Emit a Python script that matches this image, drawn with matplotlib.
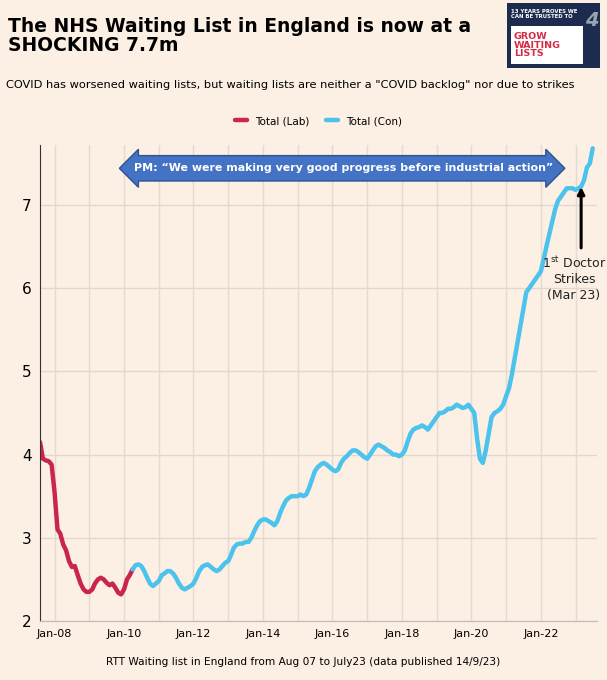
import matplotlib
matplotlib.use("Agg")
import matplotlib.pyplot as plt
import matplotlib.dates as mdates
import pandas as pd
import numpy as np

# waiting list (millions), monthly
lab_values = [4.15, 3.95, 3.93, 3.92, 3.88,
              3.55, 3.1, 3.05, 2.92, 2.85, 2.72, 2.65, 2.66, 2.55, 2.45, 2.38, 2.35,
              2.35, 2.38, 2.45, 2.5, 2.52, 2.5, 2.46, 2.43, 2.45, 2.4, 2.34, 2.32,
              2.38, 2.5, 2.55, 2.62]
con_values = [2.62, 2.67, 2.68, 2.66, 2.6, 2.52, 2.45, 2.42, 2.45,
              2.48, 2.55, 2.57, 2.6, 2.6, 2.57, 2.52, 2.45, 2.4, 2.38, 2.4, 2.42,
              2.45, 2.52, 2.6, 2.65, 2.67, 2.68, 2.65, 2.62, 2.6, 2.62, 2.66, 2.7,
              2.72, 2.8, 2.88, 2.92, 2.93, 2.93, 2.95, 2.95, 3.0, 3.08, 3.15, 3.2,
              3.22, 3.22, 3.2, 3.18, 3.15, 3.2, 3.3, 3.38, 3.45, 3.48, 3.5, 3.5,
              3.5, 3.52, 3.5, 3.52, 3.6, 3.7, 3.8, 3.85, 3.88, 3.9, 3.88, 3.85,
              3.82, 3.8, 3.82, 3.9, 3.95, 3.98, 4.02, 4.05, 4.05, 4.03, 4.0, 3.97,
              3.95, 4.0, 4.05, 4.1, 4.12, 4.1, 4.08, 4.05, 4.03, 4.0, 4.0, 3.98,
              4.0, 4.05, 4.15, 4.25, 4.3, 4.32, 4.33, 4.35, 4.33, 4.3, 4.35, 4.4,
              4.45, 4.5, 4.5, 4.52, 4.55, 4.55, 4.57, 4.6, 4.58, 4.56, 4.57, 4.6,
              4.55, 4.5, 4.2, 3.95, 3.9, 4.05, 4.25, 4.45, 4.5, 4.52, 4.55, 4.6,
              4.7, 4.8, 4.95, 5.15, 5.35, 5.55, 5.75, 5.95, 6.0, 6.05, 6.1, 6.15,
              6.2, 6.35, 6.5, 6.65, 6.8, 6.95, 7.05, 7.1, 7.15, 7.2, 7.2, 7.2,
              7.18, 7.2, 7.22, 7.3, 7.45, 7.5, 7.68]
lab_dates = pd.date_range("2007-08-01", periods=len(lab_values), freq="MS")
con_dates = pd.date_range("2010-04-01", periods=len(con_values), freq="MS")
tick_years = [2008, 2010, 2012, 2014, 2016, 2018, 2020, 2022]

bg = "#fcefe4"
red = "#c8264b"
blue = "#4cc3ec"

fig = plt.figure(figsize=(6.07, 6.8), dpi=100, facecolor=bg)
ax = fig.add_axes([40/607, 1-621/680, 557/607, 476/680], facecolor=bg)

ax.plot(lab_dates, lab_values, color=red, lw=3.2, label="Total (Lab)", solid_capstyle="round")
ax.plot(con_dates, con_values, color=blue, lw=3.2, label="Total (Con)", solid_capstyle="round")

ax.set_xlim(pd.Timestamp("2007-08-01"), pd.Timestamp("2023-08-15"))
ax.set_ylim(2, 7.72)
ax.set_yticks([2, 3, 4, 5, 6, 7])
ax.set_xticks([pd.Timestamp(f"{y}-01-01") for y in tick_years])
ax.xaxis.set_major_formatter(mdates.DateFormatter("Jan-%y"))
ax.set_xticks([pd.Timestamp(f"{y}-01-01") for y in range(2008, 2024)], minor=True)
ax.grid(True, which="both", axis="x", color="#e6dad0", lw=1)
ax.grid(True, axis="y", color="#e3d6cc", lw=1)
ax.set_axisbelow(True)
ax.tick_params(axis="y", labelsize=11, length=0, pad=6)
ax.tick_params(axis="x", labelsize=8, length=0, pad=6)
ax.tick_params(which="minor", length=0)
for s in ["top", "right"]:
    ax.spines[s].set_visible(False)
ax.spines["left"].set_color("#333333")
ax.spines["bottom"].set_color("#bbbbbb")

ax.legend(loc="lower center", bbox_to_anchor=(0.5, 1.02), ncol=2, frameon=False,
          fontsize=7.5, handlelength=1.2, columnspacing=1.5)

# PM quote arrow
ax.text(pd.Timestamp("2016-05-01"), 7.44,
        "PM: \u201cWe were making very good progress before industrial action\u201d",
        ha="center", va="center", color="white", fontsize=7.9, fontweight="bold",
        bbox=dict(boxstyle="darrow,pad=0.7", fc="#4472c4", ec="#2f528f", lw=1))

# strikes annotation
ax.annotate("", xy=(pd.Timestamp("2023-03-01"), 7.25), xytext=(pd.Timestamp("2023-03-01"), 6.45),
            arrowprops=dict(arrowstyle="-|>", color="black", lw=2.2, mutation_scale=10))
ax.text(pd.Timestamp("2022-12-15"), 6.4, "1$^{\\mathrm{st}}$ Doctor\nStrikes\n(Mar 23)",
        ha="center", va="top", fontsize=9, color="#222222", linespacing=1.3)

fig.text(8/607, 1-36/680, "The NHS Waiting List in England is now at a\nSHOCKING 7.7m",
         fontsize=13.5, fontweight="bold", va="center", ha="left", linespacing=1.05)
fig.text(6/607, 1-85/680,
         "COVID has worsened waiting lists, but waiting lists are neither a \"COVID backlog\" nor due to strikes",
         fontsize=8.2, va="center", ha="left")
fig.text(0.5, 1-662/680, "RTT Waiting list in England from Aug 07 to July23 (data published 14/9/23)",
         fontsize=7.6, ha="center", va="center")

# logo
lx, ly, lw_, lh = 507/607, 1-68/680, 93/607, 65/680
fig.patches.append(plt.Rectangle((lx, ly), lw_, lh, transform=fig.transFigure, fc="#1d2b4f", ec="none"))
fig.patches.append(plt.Rectangle((lx+4/607, ly+4/680), 72/607, 38/680, transform=fig.transFigure,
                                 fc="white", ec="none"))
fig.text(lx+4/607, ly+54/680, "13 YEARS PROVES WE\nCAN BE TRUSTED TO", color="white", fontsize=3.9,
         fontweight="bold", va="center", ha="left", linespacing=1.2)
fig.text(lx+85/607, ly+48/680, "4", color="#9aa3b5", fontsize=14, fontweight="bold",
         fontstyle="italic", va="center", ha="center")
fig.text(lx+7/607, ly+23/680, "GROW\nWAITING\nLISTS", color="#d52b45", fontsize=6.8,
         fontweight="bold", va="center", ha="left", linespacing=0.95)

fig.savefig("out.png", dpi=100, facecolor=bg)
